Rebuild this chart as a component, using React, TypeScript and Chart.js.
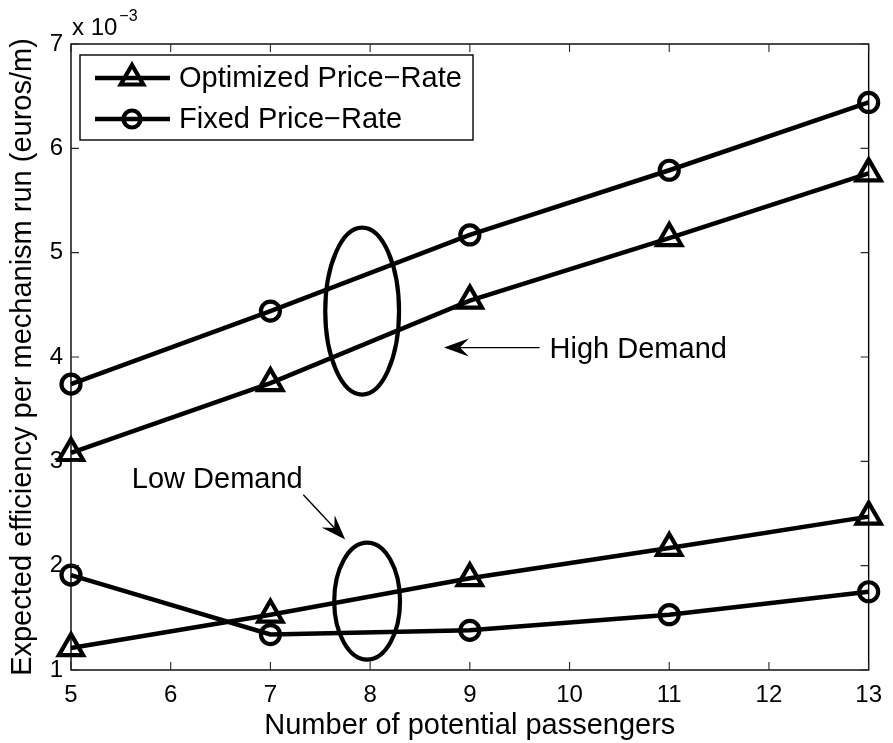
import React, { useEffect, useRef } from 'react';
import { Chart, registerables } from 'chart.js';

Chart.register(...registerables);

// ---------- data (values in units of 10^-3 euros/m) ----------
const passengers = [5, 7, 9, 11, 13];
const optimizedHigh = [3.08, 3.75, 4.54, 5.14, 5.76];
const fixedHigh = [3.74, 4.44, 5.17, 5.79, 6.44];
const optimizedLow = [1.21, 1.53, 1.88, 2.17, 2.47];
const fixedLow = [1.91, 1.34, 1.38, 1.53, 1.75];

const seriesLabels = ['Optimized Price\u2212Rate', 'Fixed Price\u2212Rate'];
const xTickValues = [5, 6, 7, 8, 9, 10, 11, 12, 13];
const yTickValues = [1, 2, 3, 4, 5, 6, 7];
const yExponentBase = 'x 10';
const yExponent = '\u22123';
const xTitle = 'Number of potential passengers';
const yTitle = 'Expected efficiency per mechanism run (euros/m)';

// annotation anchors in data coordinates
const highEllipse = { x: 7.92, y: 4.44, rx: 0.37, ry: 0.8 };
const lowEllipse = { x: 7.97, y: 1.66, rx: 0.33, ry: 0.56 };
const highArrow = { from: [9.7, 4.09], to: [8.74, 4.09] };
const lowArrow = { from: [7.33, 2.68], to: [7.75, 2.25] };
const highText = { text: 'High Demand', x: 9.8, y: 3.99 };
const lowText = { text: 'Low Demand', x: 5.61, y: 2.745 };

const FONT = '"Liberation Sans", Arial, Helvetica, sans-serif';
const TRI_R = 14;
const CIRC_R = 9.5;
const MARK_LW = 4.2;
const LINE_LW = 4.5;

function drawArrow(ctx: CanvasRenderingContext2D, x1: number, y1: number, x2: number, y2: number) {
  const dx = x2 - x1;
  const dy = y2 - y1;
  const len = Math.hypot(dx, dy);
  const ux = dx / len;
  const uy = dy / len;
  const nx = -uy;
  const ny = ux;
  const L = 25;
  const W = 9;
  const notch = 9;
  ctx.save();
  ctx.strokeStyle = '#000';
  ctx.lineWidth = 1.4;
  ctx.beginPath();
  ctx.moveTo(x1, y1);
  ctx.lineTo(x2 - ux * notch, y2 - uy * notch);
  ctx.stroke();
  ctx.fillStyle = '#000';
  ctx.beginPath();
  ctx.moveTo(x2, y2);
  ctx.lineTo(x2 - ux * L + nx * W, y2 - uy * L + ny * W);
  ctx.lineTo(x2 - ux * (L - notch), y2 - uy * (L - notch));
  ctx.lineTo(x2 - ux * L - nx * W, y2 - uy * L - ny * W);
  ctx.closePath();
  ctx.fill();
  ctx.restore();
}

function drawMarker(ctx: CanvasRenderingContext2D, style: string, x: number, y: number, r: number, lw: number) {
  ctx.save();
  ctx.strokeStyle = '#000';
  ctx.lineWidth = lw;
  ctx.beginPath();
  if (style === 'triangle') {
    let rad = 0;
    ctx.moveTo(x + Math.sin(rad) * r, y - Math.cos(rad) * r);
    rad += (2 * Math.PI) / 3;
    ctx.lineTo(x + Math.sin(rad) * r, y - Math.cos(rad) * r);
    rad += (2 * Math.PI) / 3;
    ctx.lineTo(x + Math.sin(rad) * r, y - Math.cos(rad) * r);
    ctx.closePath();
  } else {
    ctx.arc(x, y, r, 0, Math.PI * 2);
  }
  ctx.stroke();
  ctx.restore();
}

const matlabPlugin = {
  id: 'matlabDecor',
  afterDatasetsDraw(chart: any) {
    const ctx: CanvasRenderingContext2D = chart.ctx;
    const { left, right, top, bottom } = chart.chartArea;
    const xs = chart.scales.x;
    const ys = chart.scales.y;
    const P = (x: number, y: number) => [xs.getPixelForValue(x), ys.getPixelForValue(y)];

    // axes box
    ctx.save();
    ctx.strokeStyle = '#000';
    ctx.lineWidth = 1.4;
    ctx.strokeRect(left, top, right - left, bottom - top);
    // inward ticks
    ctx.lineWidth = 1.1;
    ctx.strokeStyle = '#262626';
    const tl = 8;
    ctx.beginPath();
    xs.ticks.forEach((t: any) => {
      const px = xs.getPixelForValue(t.value);
      ctx.moveTo(px, bottom);
      ctx.lineTo(px, bottom - tl);
      ctx.moveTo(px, top);
      ctx.lineTo(px, top + tl);
    });
    ys.ticks.forEach((t: any) => {
      const py = ys.getPixelForValue(t.value);
      ctx.moveTo(left, py);
      ctx.lineTo(left + tl, py);
      ctx.moveTo(right, py);
      ctx.lineTo(right - tl, py);
    });
    ctx.stroke();
    ctx.restore();

    // ellipses
    ctx.save();
    ctx.strokeStyle = '#000';
    ctx.lineWidth = 4.2;
    [highEllipse, lowEllipse].forEach((e) => {
      const [cx, cy] = P(e.x, e.y);
      const rx = Math.abs(xs.getPixelForValue(e.x + e.rx) - cx);
      const ry = Math.abs(ys.getPixelForValue(e.y + e.ry) - cy);
      ctx.beginPath();
      ctx.ellipse(cx, cy, rx, ry, 0, 0, Math.PI * 2);
      ctx.stroke();
    });
    ctx.restore();

    // arrows
    [highArrow, lowArrow].forEach((a) => {
      const [x1, y1] = P(a.from[0], a.from[1]);
      const [x2, y2] = P(a.to[0], a.to[1]);
      drawArrow(ctx, x1, y1, x2, y2);
    });

    // annotation texts
    ctx.save();
    ctx.fillStyle = '#000';
    ctx.font = `29px ${FONT}`;
    ctx.textBaseline = 'alphabetic';
    ctx.textAlign = 'left';
    [highText, lowText].forEach((t) => {
      const [x, y] = P(t.x, t.y);
      ctx.fillText(t.text, x, y);
    });
    ctx.restore();

    // legend
    ctx.save();
    const lx = left + 9;
    const ly = top + 11;
    const lw = 393;
    const lh = 85;
    ctx.fillStyle = '#fff';
    ctx.fillRect(lx, ly, lw, lh);
    ctx.strokeStyle = '#000';
    ctx.lineWidth = 1.4;
    ctx.strokeRect(lx, ly, lw, lh);
    const rows = [
      { label: chart.data.datasets[0].label, style: 'triangle', r: TRI_R - 1, y: ly + 23 },
      { label: chart.data.datasets[1].label, style: 'circle', r: CIRC_R - 1, y: ly + 64 },
    ];
    rows.forEach((row) => {
      ctx.strokeStyle = '#000';
      ctx.lineWidth = LINE_LW;
      ctx.beginPath();
      ctx.moveTo(lx + 15, row.y);
      ctx.lineTo(lx + 90, row.y);
      ctx.stroke();
      drawMarker(ctx, row.style, lx + 52, row.y, row.r, MARK_LW);
      ctx.fillStyle = '#000';
      ctx.font = `29px ${FONT}`;
      ctx.textAlign = 'left';
      ctx.textBaseline = 'middle';
      ctx.fillText(row.label, lx + 99, row.y + 1);
    });
    ctx.restore();
  },
  afterDraw(chart: any) {
    const ctx: CanvasRenderingContext2D = chart.ctx;
    const { left, right, top, bottom } = chart.chartArea;
    ctx.save();
    ctx.fillStyle = '#000';
    // x title
    ctx.font = `29px ${FONT}`;
    ctx.textAlign = 'center';
    ctx.textBaseline = 'alphabetic';
    ctx.fillText(xTitle, (left + right) / 2, 734);
    // y title
    ctx.save();
    ctx.translate(31, (top + bottom) / 2);
    ctx.rotate(-Math.PI / 2);
    ctx.textAlign = 'center';
    ctx.textBaseline = 'alphabetic';
    ctx.fillText(yTitle, 0, 0);
    ctx.restore();
    // exponent
    ctx.textAlign = 'left';
    ctx.font = `24px ${FONT}`;
    ctx.fillText(yExponentBase, left + 1, top - 9);
    const w = ctx.measureText(yExponentBase).width;
    ctx.font = `16px ${FONT}`;
    ctx.fillText(yExponent, left + 3 + w, top - 23);
    ctx.restore();
  },
};

function series(label: string, values: number[], style: string, radius: number) {
  return {
    label,
    data: passengers.map((x, i) => ({ x, y: values[i] })),
    borderColor: '#000',
    borderWidth: LINE_LW,
    pointStyle: style,
    pointRadius: radius,
    pointBorderWidth: MARK_LW,
    pointBorderColor: '#000',
    pointBackgroundColor: 'rgba(0,0,0,0)',
    fill: false,
    tension: 0,
    clip: false as any,
  };
}

export default function App() {
  const ref = useRef<HTMLCanvasElement>(null);
  useEffect(() => {
    document.body.style.margin = '0';
    const chart = new Chart(ref.current as HTMLCanvasElement, {
      type: 'line',
      data: {
        datasets: [
          series(seriesLabels[0], optimizedHigh, 'triangle', TRI_R),
          series(seriesLabels[1], fixedHigh, 'circle', CIRC_R),
          series(seriesLabels[0], optimizedLow, 'triangle', TRI_R),
          series(seriesLabels[1], fixedLow, 'circle', CIRC_R),
        ] as any,
      },
      options: {
        animation: false,
        responsive: true,
        maintainAspectRatio: false,
        layout: { padding: { top: 44, right: 18, left: 0, bottom: 0 } },
        plugins: { legend: { display: false }, tooltip: { enabled: false } },
        events: [],
        scales: {
          x: {
            type: 'linear',
            min: 5,
            max: 13,
            afterBuildTicks: (s: any) => {
              s.ticks = xTickValues.map((v) => ({ value: v }));
            },
            grid: { display: false, drawTicks: false },
            border: { display: false },
            ticks: {
              font: { family: FONT, size: 24 },
              color: '#000',
              padding: 11,
              autoSkip: false,
              maxRotation: 0,
              callback: (v: any) => String(v),
            },
            afterFit: (s: any) => {
              s.height = 73;
            },
          },
          y: {
            type: 'linear',
            min: 1,
            max: 7,
            afterBuildTicks: (s: any) => {
              s.ticks = yTickValues.map((v) => ({ value: v }));
            },
            grid: { display: false, drawTicks: false },
            border: { display: false },
            ticks: {
              font: { family: FONT, size: 24 },
              color: '#000',
              padding: 8,
              autoSkip: false,
              callback: (v: any) => String(v),
            },
            afterFit: (s: any) => {
              s.width = 71;
            },
          },
        },
      } as any,
      plugins: [matlabPlugin],
    });
    return () => chart.destroy();
  }, []);
  return (
    <div style={{ position: 'absolute', left: 0, top: 0, width: 893, height: 743, background: '#fff' }}>
      <canvas ref={ref} />
    </div>
  );
}
